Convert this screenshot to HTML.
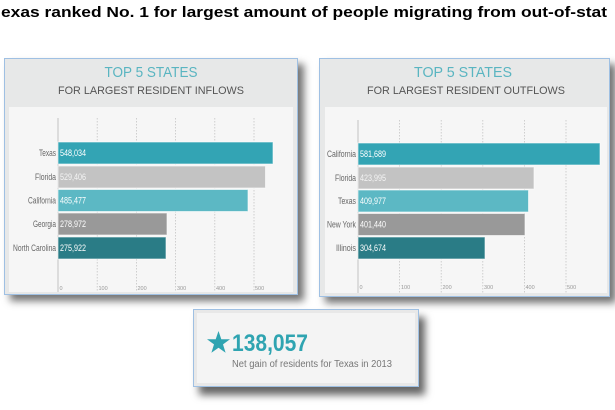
<!DOCTYPE html>
<html><head><meta charset="utf-8"><style>
html,body{margin:0;padding:0;background:#fff;}
svg{display:block;}
text{font-family:"Liberation Sans",sans-serif;}
</style></head><body>
<svg width="615" height="410" viewBox="0 0 615 410" xmlns="http://www.w3.org/2000/svg">
<defs>
<filter id="sh" x="-10%" y="-10%" width="130%" height="130%">
<feDropShadow dx="6" dy="6" stdDeviation="4" flood-color="#000" flood-opacity="0.55"/>
</filter>
<filter id="sh2" x="-10%" y="-20%" width="130%" height="160%">
<feDropShadow dx="6" dy="8" stdDeviation="4" flood-color="#000" flood-opacity="0.6"/>
</filter>
</defs>
<rect width="615" height="410" fill="#fff"/>
<text x="1" y="17" font-size="15" font-weight="bold" fill="#000" textLength="606" lengthAdjust="spacingAndGlyphs">exas ranked No. 1 for largest amount of people migrating from out-of-stat</text>

<!-- LEFT PANEL -->
<rect x="4.5" y="58.5" width="293" height="236" fill="#e7e8e8" stroke="#9fc0e3" stroke-width="1" filter="url(#sh)"/>
<rect x="9" y="107" width="284" height="185" fill="#f6f6f6"/>
<text x="151" y="77" font-size="15" fill="#5ab5c1" text-anchor="middle" textLength="93" lengthAdjust="spacingAndGlyphs">TOP 5 STATES</text>
<text x="151" y="94" font-size="11" fill="#555" text-anchor="middle" textLength="186" lengthAdjust="spacingAndGlyphs">FOR LARGEST RESIDENT INFLOWS</text>
<g stroke="#c4c4c4" stroke-width="0.8" stroke-dasharray="1.5,1.5">
<line x1="97.2" y1="118" x2="97.2" y2="292"/>
<line x1="136.4" y1="118" x2="136.4" y2="292"/>
<line x1="175.6" y1="118" x2="175.6" y2="292"/>
<line x1="214.8" y1="118" x2="214.8" y2="292"/>
<line x1="254" y1="118" x2="254" y2="292"/>
</g>
<line x1="58" y1="118" x2="58" y2="292" stroke="#b5b5b5" stroke-width="0.8"/>
<g font-size="5.5" fill="#999">
<text x="59.5" y="290">0</text><text x="98.5" y="290">100</text><text x="137.5" y="290">200</text><text x="177" y="290">300</text><text x="216" y="290">400</text><text x="255" y="290">500</text>
</g>
<g stroke="rgba(255,255,255,0.6)" stroke-width="1">
<rect x="58" y="142" width="215" height="22" fill="#33a4b4"/>
<rect x="58" y="166" width="207.5" height="22" fill="#c3c3c3"/>
<rect x="58" y="189.5" width="190" height="22" fill="#5cb8c4"/>
<rect x="58" y="213" width="109" height="22" fill="#999999"/>
<rect x="58" y="237" width="108" height="22" fill="#2a7c86"/>
</g>
<g font-size="9" fill="#666" text-anchor="end">
<text x="56" y="156" textLength="17" lengthAdjust="spacingAndGlyphs">Texas</text>
<text x="56" y="180" textLength="21" lengthAdjust="spacingAndGlyphs">Florida</text>
<text x="56" y="203.5" textLength="28" lengthAdjust="spacingAndGlyphs">California</text>
<text x="56" y="227" textLength="23" lengthAdjust="spacingAndGlyphs">Georgia</text>
<text x="56" y="251" textLength="43" lengthAdjust="spacingAndGlyphs">North Carolina</text>
</g>
<g font-size="9" fill="#fff">
<text x="60" y="156" textLength="26" lengthAdjust="spacingAndGlyphs">548,034</text>
<text x="60" y="180" textLength="26" lengthAdjust="spacingAndGlyphs" fill="#f4f4f4">529,406</text>
<text x="60" y="203.5" textLength="26" lengthAdjust="spacingAndGlyphs">485,477</text>
<text x="60" y="227" textLength="26" lengthAdjust="spacingAndGlyphs">278,972</text>
<text x="60" y="251" textLength="26" lengthAdjust="spacingAndGlyphs">275,922</text>
</g>

<!-- RIGHT PANEL -->
<rect x="319.5" y="58.5" width="290" height="238" fill="#e7e8e8" stroke="#9fc0e3" stroke-width="1" filter="url(#sh)"/>
<rect x="325" y="107" width="282" height="186" fill="#f6f6f6"/>
<text x="463" y="77" font-size="15" fill="#5ab5c1" text-anchor="middle" textLength="98" lengthAdjust="spacingAndGlyphs">TOP 5 STATES</text>
<text x="466" y="94" font-size="11" fill="#555" text-anchor="middle" textLength="198" lengthAdjust="spacingAndGlyphs">FOR LARGEST RESIDENT OUTFLOWS</text>
<g stroke="#c4c4c4" stroke-width="0.8" stroke-dasharray="1.5,1.5">
<line x1="399.6" y1="120" x2="399.6" y2="293"/>
<line x1="441.2" y1="120" x2="441.2" y2="293"/>
<line x1="482.8" y1="120" x2="482.8" y2="293"/>
<line x1="524.4" y1="120" x2="524.4" y2="293"/>
<line x1="566" y1="120" x2="566" y2="293"/>
</g>
<line x1="358" y1="120" x2="358" y2="293" stroke="#b5b5b5" stroke-width="0.8"/>
<g font-size="5.5" fill="#999">
<text x="359.5" y="289">0</text><text x="401" y="289">100</text><text x="442.5" y="289">200</text><text x="484" y="289">300</text><text x="525.5" y="289">400</text><text x="567" y="289">500</text>
</g>
<g stroke="rgba(255,255,255,0.6)" stroke-width="1">
<rect x="358" y="143" width="242" height="22" fill="#33a4b4"/>
<rect x="358" y="167" width="176" height="22" fill="#c3c3c3"/>
<rect x="358" y="190" width="170.5" height="22" fill="#5cb8c4"/>
<rect x="358" y="213.5" width="167" height="22" fill="#999999"/>
<rect x="358" y="237" width="127" height="22" fill="#2a7c86"/>
</g>
<g font-size="9" fill="#666" text-anchor="end">
<text x="356" y="157" textLength="29" lengthAdjust="spacingAndGlyphs">California</text>
<text x="356" y="181" textLength="21" lengthAdjust="spacingAndGlyphs">Florida</text>
<text x="356" y="204" textLength="18" lengthAdjust="spacingAndGlyphs">Texas</text>
<text x="356" y="227.5" textLength="29" lengthAdjust="spacingAndGlyphs">New York</text>
<text x="356" y="251" textLength="20" lengthAdjust="spacingAndGlyphs">Illinois</text>
</g>
<g font-size="9" fill="#fff">
<text x="360" y="157" textLength="26" lengthAdjust="spacingAndGlyphs">581,689</text>
<text x="360" y="181" textLength="26" lengthAdjust="spacingAndGlyphs" fill="#f4f4f4">423,995</text>
<text x="360" y="204" textLength="26" lengthAdjust="spacingAndGlyphs">409,977</text>
<text x="360" y="227.5" textLength="26" lengthAdjust="spacingAndGlyphs">401,440</text>
<text x="360" y="251" textLength="26" lengthAdjust="spacingAndGlyphs">304,674</text>
</g>

<!-- BOTTOM BOX -->
<rect x="193.5" y="309.5" width="225" height="77" fill="#e8e8e8" stroke="#9fc0e3" stroke-width="1" filter="url(#sh2)"/>
<rect x="197" y="313" width="218" height="70" fill="#f4f4f4"/>
<polygon points="218.5,331 221.3,339.2 230,339.3 223,344.4 225.6,352.7 218.5,347.7 211.4,352.7 214,344.4 207,339.3 215.7,339.2" fill="#2fa4b1"/>
<text x="232" y="351" font-family="Liberation Serif,serif" font-weight="bold" font-size="24" fill="#2fa4b1" textLength="76" lengthAdjust="spacingAndGlyphs">138,057</text>
<text x="232" y="367" font-size="10" fill="#777" textLength="160" lengthAdjust="spacingAndGlyphs">Net gain of residents for Texas in 2013</text>
</svg>
</body></html>
